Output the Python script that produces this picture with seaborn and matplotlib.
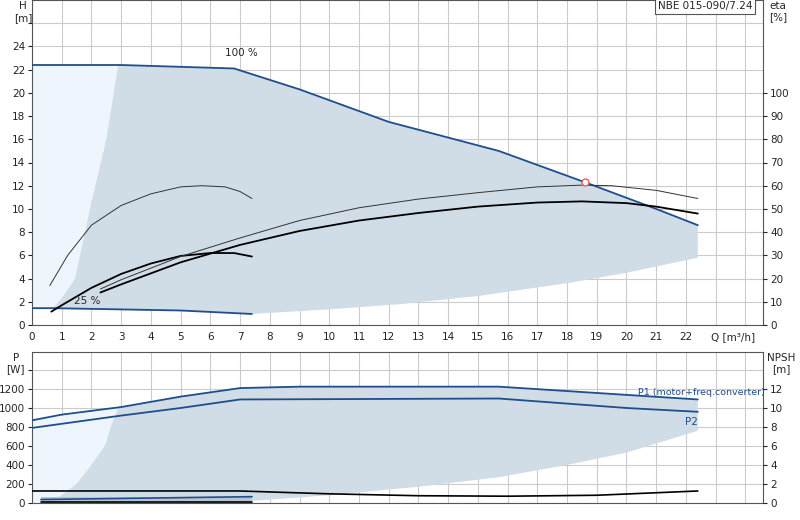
import numpy as np
import pandas as pd
import seaborn as sns
import matplotlib
matplotlib.use("Agg")
import matplotlib.pyplot as plt

# ---- data ----
q100 = [0, 3, 6.8, 9, 12, 15.7, 18.6, 21, 22.4]
h100 = [22.4, 22.4, 22.1, 20.3, 17.5, 15.0, 12.3, 10.0, 8.6]
q25 = [0, 0.7, 5, 7.4]
h25 = [1.45, 1.45, 1.25, 0.95]
q_low = [7.4, 10, 12.4, 15, 18, 20, 22.4]
h_low = [0.95, 1.35, 1.8, 2.5, 3.6, 4.5, 5.8]
q_left = [0.7, 1.0, 1.45, 1.95, 2.5, 2.9]
h_left = [1.45, 2.3, 4.0, 10.0, 16.0, 22.4]

q_eta_s = [0.6, 1.2, 2.0, 3.0, 4.0, 5.0, 5.7, 6.5, 7.0, 7.4]
h_eta_s = [3.4, 6.0, 8.6, 10.3, 11.3, 11.9, 12.0, 11.9, 11.5, 10.9]
q_h_s = [0.65, 1.0, 2.0, 3.0, 4.0, 5.0, 6.0, 6.8, 7.4]
h_h_s = [1.15, 1.7, 3.2, 4.4, 5.3, 5.95, 6.2, 6.2, 5.9]
q_eta_l = [2.3, 3, 5, 7, 9, 11, 13, 15, 17, 18.5, 19.5, 21, 22.4]
h_eta_l = [3.1, 3.9, 5.9, 7.5, 9.0, 10.1, 10.85, 11.4, 11.9, 12.05, 12.0, 11.6, 10.9]
q_h_l = [2.3, 3, 5, 7, 9, 11, 13, 15, 17, 18.5, 20, 21, 22.4]
h_h_l = [2.8, 3.5, 5.4, 6.9, 8.1, 9.0, 9.65, 10.2, 10.55, 10.65, 10.5, 10.2, 9.6]
duty_q, duty_h = 18.6, 12.3

q_p1 = [0, 1, 3, 5, 7, 9, 15.7, 22.4]
p1 = [870, 930, 1010, 1120, 1210, 1225, 1225, 1090]
q_p2 = [0, 3, 5, 7, 15.7, 20, 22.4]
p2 = [790, 920, 1000, 1090, 1100, 1000, 960]
q_pl = [7.4, 10, 13, 15.7, 18, 20, 22.4]
p_low = [20, 80, 170, 270, 400, 530, 760]
q_pleft = [0.5, 1.0, 1.5, 2.0, 2.45, 2.65, 2.9]
p_left = [0, 80, 200, 400, 600, 800, 1000]
q_npsh = [0, 7, 10, 13, 16, 19, 22.4]
npsh = [1.25, 1.25, 0.95, 0.75, 0.70, 0.80, 1.25]
q_small = [0.3, 7.4]
p_small1 = [35, 65]
p_small2 = [10, 10]

sns.set_style("whitegrid", {"grid.color": "#cccccc", "axes.edgecolor": "#555555"})
plt.rcParams["font.family"] = ["DejaVu Sans"]
plt.rcParams["font.size"] = 7.5

BLUE = "#1f4e8c"
DARK = "#d0dce6"
LIGHT = "#eef5fc"

fig = plt.figure(figsize=(8, 5.2), dpi=100)
ax = fig.add_axes([0.04, 0.375, 0.914, 0.625])
bx = fig.add_axes([0.04, 0.033, 0.914, 0.29])
df = pd.DataFrame

# ---- top chart ----
# light region: left of the left boundary curve
lx = np.r_[0, q_left, 0]
ly = np.r_[h25[0], h_left, h100[0]]
ax.fill(lx, ly, color=LIGHT, lw=0, zorder=1)
# dark region polygon: upper curve, right edge, lower curves, left curve
qu = np.linspace(2.9, 22.4, 200)
hu = np.interp(qu, q100, h100)
ql = np.r_[q25[1:], q_low[1:]][::-1]
hl = np.r_[h25[1:], h_low[1:]][::-1]
px = np.r_[qu, ql, q_left]
py = np.r_[hu, hl, h_left]
ax.fill(px, py, color=DARK, lw=0, zorder=1)

sns.lineplot(data=df({"q": q100, "h": h100}), x="q", y="h", ax=ax, color=BLUE, lw=1.3, zorder=3)
sns.lineplot(data=df({"q": q25, "h": h25}), x="q", y="h", ax=ax, color=BLUE, lw=1.3, zorder=3)
sns.lineplot(data=df({"q": q_eta_s, "h": h_eta_s}), x="q", y="h", ax=ax, color="#333333", lw=0.7, zorder=3)
sns.lineplot(data=df({"q": q_h_s, "h": h_h_s}), x="q", y="h", ax=ax, color="black", lw=1.3, zorder=3)
sns.lineplot(data=df({"q": q_eta_l, "h": h_eta_l}), x="q", y="h", ax=ax, color="#333333", lw=0.7, zorder=3)
sns.lineplot(data=df({"q": q_h_l, "h": h_h_l}), x="q", y="h", ax=ax, color="black", lw=1.3, zorder=3)
ax.plot([duty_q], [duty_h], "o", mfc="white", mec="#e06060", ms=5, zorder=4)

ax.set_xlim(0, 24.6)
ax.set_ylim(0, 28)
ax.set_xticks(range(0, 25))
ax.set_xticklabels([str(i) if i <= 22 else "" for i in range(25)])
ax.set_yticks(range(0, 28, 2))
ax.set_yticklabels([str(i) if i <= 24 else "" for i in range(0, 28, 2)])
ax.set_xlabel(""); ax.set_ylabel("")
ax.tick_params(length=3, pad=2, colors="#222222")
ax.text(23.6, -0.6, "Q [m³/h]", ha="center", va="top")
ax.text(6.5, 23.0, "100 %", ha="left", va="bottom")
ax.text(1.4, 1.6, "25 %", ha="left", va="bottom")
ax.text(-0.3, 27.9, "H\n[m]", ha="center", va="top")
ax.text(0.985, 0.998, "NBE 015-090/7.24", transform=ax.transAxes, ha="right", va="top",
        bbox=dict(boxstyle="square,pad=0.3", fc="white", ec="#555555", lw=0.8))
ay = ax.twinx()
ay.set_ylim(0, 140)
ay.set_yticks(range(0, 110, 10))
ay.grid(False)
ay.tick_params(length=3, pad=2)
ay.text(1.02, 0.998, "eta\n[%]", transform=ay.transAxes, ha="center", va="top")
for s in ay.spines.values():
    s.set_visible(False)

# ---- bottom chart ----
bx.fill(np.r_[0, q_pleft, 0], np.r_[0, p_left, p1[0]], color=LIGHT, lw=0, zorder=1)
qpu = np.linspace(2.9, 22.4, 200)
ppu = np.interp(qpu, q_p1, p1)
bpx = np.r_[qpu, q_pl[::-1], q_pleft]
bpy = np.r_[ppu, p_low[::-1], p_left]
bx.fill(bpx, bpy, color=DARK, lw=0, zorder=1)
bx.fill_between(q_small, 0, 65, color="#b8c4ce", lw=0, zorder=1)

sns.lineplot(data=df({"q": q_p1, "p": p1}), x="q", y="p", ax=bx, color=BLUE, lw=1.3, zorder=3)
sns.lineplot(data=df({"q": q_p2, "p": p2}), x="q", y="p", ax=bx, color=BLUE, lw=1.3, zorder=3)
sns.lineplot(data=df({"q": q_npsh, "p": np.array(npsh) * 100}), x="q", y="p", ax=bx, color="black", lw=1.2, zorder=3)
sns.lineplot(data=df({"q": q_small, "p": p_small1}), x="q", y="p", ax=bx, color=BLUE, lw=1.2, zorder=3)
sns.lineplot(data=df({"q": q_small, "p": p_small2}), x="q", y="p", ax=bx, color="black", lw=1.2, zorder=3)

bx.set_xlim(0, 24.6)
bx.set_ylim(0, 1590)
bx.set_xticks(range(0, 25))
bx.set_xticklabels([])
bx.set_yticks(range(0, 1600, 200))
bx.set_yticklabels([str(i) if i <= 1200 else "" for i in range(0, 1600, 200)])
bx.set_xlabel(""); bx.set_ylabel("")
bx.tick_params(axis="y", length=3, pad=2)
bx.tick_params(axis="x", length=0)
bx.text(20.4, 1120, "P1 (motor+freq.converter)", color=BLUE, ha="left", va="bottom", fontsize=6.8)
bx.text(22.4, 900, "P2", color=BLUE, ha="right", va="top")
bx.text(-0.55, 1580, "P\n[W]", ha="center", va="top")
by = bx.twinx()
by.set_ylim(0, 15.9)
by.set_yticks(range(0, 14, 2))
by.grid(False)
by.tick_params(length=3, pad=2)
by.text(1.025, 0.995, "NPSH\n[m]", transform=by.transAxes, ha="center", va="top")
for s in by.spines.values():
    s.set_visible(False)

fig.savefig("out.png", dpi=100)
